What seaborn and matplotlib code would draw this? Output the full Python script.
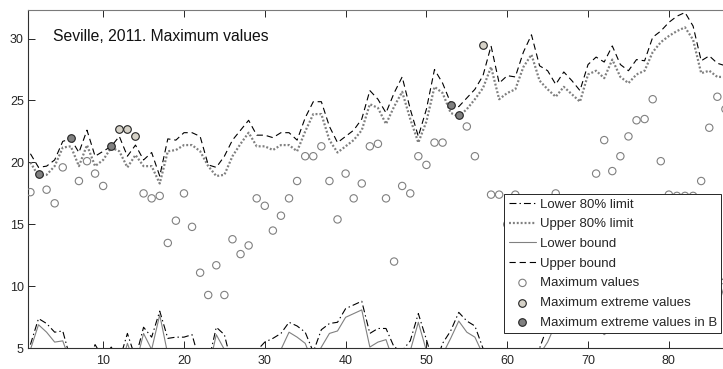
import matplotlib
matplotlib.use("Agg")
import matplotlib.pyplot as plt
import seaborn as sns

days = list(range(1, 88))
upper_bound = [20.7, 19.6, 19.7, 20.2, 21.7, 21.9, 20.8, 22.6, 20.5, 20.9,
               21.3, 22.1, 20.5, 21.4, 20.2, 20.8, 18.9, 21.9, 21.8, 22.4,
               22.4, 22.1, 19.8, 19.6, 20.5, 21.8, 22.6, 23.4, 22.2, 22.2,
               22.0, 22.4, 22.4, 21.8, 23.6, 24.9, 24.9, 22.9, 21.6, 22.1,
               22.6, 23.5, 25.8, 25.1, 24.0, 25.6, 26.9, 24.3, 22.1, 24.3,
               27.5, 26.4, 24.8, 24.5, 25.2, 25.9, 27.0, 29.4, 26.4, 27.0,
               26.9, 28.9, 30.3, 27.8, 27.4, 26.3, 27.3, 26.6, 25.8, 27.9,
               28.5, 28.1, 29.4, 27.9, 27.4, 28.3, 28.2, 30.1, 30.6, 31.3,
               31.8, 32.1, 31.0, 28.2, 28.6, 28.0, 27.8]
upper_80 = [20.0, 18.9, 19.0, 19.7, 21.2, 21.3, 19.7, 21.4, 19.7, 20.2,
            21.2, 20.9, 19.6, 20.6, 19.7, 19.7, 18.3, 20.9, 21.0, 21.4,
            21.4, 20.9, 19.7, 18.9, 19.0, 20.5, 21.5, 22.4, 21.3, 21.3,
            21.0, 21.4, 21.4, 20.9, 22.5, 23.9, 23.9, 21.8, 20.8, 21.3,
            21.8, 22.6, 24.7, 24.4, 23.1, 24.5, 25.7, 23.5, 21.6, 23.3,
            26.1, 25.6, 24.0, 23.7, 24.3, 25.1, 26.0, 27.7, 25.1, 25.6,
            25.9, 27.7, 28.7, 26.6, 25.9, 25.3, 26.1, 25.5, 24.9, 27.1,
            27.4, 26.8, 28.3, 26.9, 26.4, 27.1, 27.4, 28.9, 29.7, 30.2,
            30.6, 30.9, 29.9, 27.2, 27.4, 26.9, 26.9]
lower_80 = [5.3, 7.4, 7.0, 6.3, 6.4, 4.0, 3.2, 3.6, 5.3, 4.2,
            5.1, 4.0, 6.2, 4.2, 6.7, 5.9, 8.0, 5.8, 5.9, 5.9,
            6.1, 3.8, 3.8, 6.7, 6.1, 3.5, 3.0, 3.5, 4.8, 5.5,
            5.8, 6.2, 7.1, 6.8, 6.3, 4.7, 6.5, 7.0, 7.1, 8.2,
            8.5, 8.8, 6.2, 6.6, 6.6, 5.1, 4.8, 5.6, 7.8, 5.7,
            3.5, 5.4, 6.4, 7.9, 7.2, 6.8, 5.0, 3.5, 3.0, 3.0,
            3.5, 3.5, 4.0, 5.0, 6.8, 7.8, 8.2, 7.6, 7.8, 8.2,
            7.8, 7.2, 7.6, 8.0, 8.4, 8.0, 7.8, 8.2, 8.6, 8.8,
            8.4, 8.0, 7.8, 7.6, 8.0, 9.0, 11.2]
lower_bound = [4.9, 6.9, 6.3, 5.5, 5.6, 3.8, 3.0, 3.0, 3.8, 3.0,
               4.0, 3.0, 5.4, 3.6, 6.2, 4.9, 7.7, 4.5, 3.5, 4.0,
               4.9, 3.5, 3.2, 6.1, 4.9, 3.0, 2.8, 3.0, 3.0, 3.5,
               4.0, 4.9, 6.3, 5.9, 5.4, 3.8, 5.1, 6.2, 6.4, 7.5,
               7.8, 8.1, 5.1, 5.5, 5.7, 3.8, 3.5, 4.8, 7.1, 4.8,
               3.5, 4.5, 5.8, 7.2, 6.3, 5.9, 4.5, 3.0, 2.5, 2.5,
               3.0, 3.0, 3.5, 4.5, 5.5, 7.0, 7.2, 6.8, 6.6, 7.0,
               6.8, 6.1, 6.6, 7.0, 7.4, 7.0, 6.8, 7.2, 7.6, 7.8,
               7.4, 7.0, 6.8, 6.6, 7.0, 8.2, 10.3]

max_days = [1, 3, 4, 5, 7, 8, 9, 10, 15, 16, 17, 18, 19, 20, 21, 22, 23, 24, 25,
            26, 27, 28, 29, 30, 31, 32, 33, 34, 35, 36, 37, 38, 39, 40, 41, 42,
            43, 44, 45, 46, 47, 48, 49, 50, 51, 52, 55, 56, 58, 59, 60, 61, 62,
            63, 64, 65, 66, 67, 68, 69, 70, 71, 72, 73, 74, 75, 76, 77, 78, 79,
            80, 81, 82, 83, 84, 85, 86, 87]
max_values = [17.6, 17.8, 16.7, 19.6, 18.5, 20.1, 19.1, 18.1, 17.5, 17.1, 17.3,
              13.5, 15.3, 17.5, 14.8, 11.1, 9.3, 11.7, 9.3, 13.8, 12.6, 13.3,
              17.1, 16.5, 14.5, 15.7, 17.1, 18.5, 20.5, 20.5, 21.3, 18.5, 15.4,
              19.1, 17.1, 18.3, 21.3, 21.5, 17.1, 12.0, 18.1, 17.5, 20.5, 19.8,
              21.6, 21.6, 22.9, 20.5, 17.4, 17.4, 15.0, 17.4, 12.5, 10.0, 14.0,
              16.0, 17.5, 15.5, 13.0, 16.5, 15.0, 19.1, 21.8, 19.3, 20.5, 22.1,
              23.4, 23.5, 25.1, 20.1, 17.4, 17.3, 17.3, 17.3, 18.5, 22.8, 25.3,
              24.3]
extreme_days = [12, 13, 14, 57]
extreme_values = [22.7, 22.7, 22.1, 29.5]
extreme_b_days = [2, 6, 11, 53, 54]
extreme_b_values = [19.1, 22.0, 21.3, 24.6, 23.8]

x_ticks = [10, 20, 30, 40, 50, 60, 70, 80]
y_ticks = [5, 10, 15, 20, 25, 30]
title_text = "Seville, 2011. Maximum values"
legend_labels = ["Lower 80% limit", "Upper 80% limit", "Lower bound",
                 "Upper bound", "Maximum values", "Maximum extreme values",
                 "Maximum extreme values in B"]

sns.set_style("white")
plt.rcParams["font.family"] = ["Liberation Sans", "DejaVu Sans"]
plt.rcParams["lines.scale_dashes"] = False

W, H = 723, 369
fig = plt.figure(figsize=(W / 100, H / 100), dpi=100)
ax = fig.add_axes([28 / W, (H - 348.3) / H, (W - 28) / W, 338.3 / H])

handles = []
sns.lineplot(x=days, y=lower_80, ax=ax, color="black", lw=0.8,
             linestyle=(0, (5, 2.2, 1, 2.2)), errorbar=None, sort=False)
handles.append(ax.lines[-1])
sns.lineplot(x=days, y=upper_80, ax=ax, color="#808080", lw=1.6,
             linestyle=(0, (1.4, 1.4)), errorbar=None, sort=False)
handles.append(ax.lines[-1])
sns.lineplot(x=days, y=lower_bound, ax=ax, color="#808080", lw=0.8,
             linestyle="-", errorbar=None, sort=False)
handles.append(ax.lines[-1])
sns.lineplot(x=days, y=upper_bound, ax=ax, color="black", lw=0.8,
             linestyle=(0, (4.5, 2.8)), errorbar=None, sort=False)
handles.append(ax.lines[-1])

sns.scatterplot(x=max_days, y=max_values, ax=ax, marker="o", s=28,
                facecolor="none", edgecolor="#808080", linewidth=0.8, zorder=3)
handles.append(ax.collections[-1])
sns.scatterplot(x=extreme_days, y=extreme_values, ax=ax, marker="o", s=30,
                color="#d6d2c8", edgecolor="#222222", linewidth=0.8, zorder=4)
handles.append(ax.collections[-1])
sns.scatterplot(x=extreme_b_days, y=extreme_b_values, ax=ax, marker="o", s=30,
                color="#808080", edgecolor="#222222", linewidth=0.8, zorder=4)
handles.append(ax.collections[-1])

ax.set_xlim(0.7, 86.7)
ax.set_ylim(5, 32.3)
ax.set_xticks(x_ticks)
ax.set_yticks(y_ticks)
ax.set_xlabel("")
ax.set_ylabel("")
ax.tick_params(axis="both", direction="in", length=5, width=0.7,
               colors="#262626", labelsize=9)
ax.tick_params(axis="x", top=True, bottom=True, pad=5)
ax.tick_params(axis="y", left=True, right=False, pad=3)
for side in ["left", "bottom", "top"]:
    ax.spines[side].set_visible(True)
    ax.spines[side].set_color("#303030")
    ax.spines[side].set_linewidth(0.8)
ax.spines["top"].set_color("#7a7a7a")
ax.spines["right"].set_visible(False)

ax.text(0.036, 0.923, title_text, transform=ax.transAxes, fontsize=11.3,
        color="#111111", va="center", ha="left")

leg = ax.legend(handles=handles, labels=legend_labels, loc="upper left",
                bbox_to_anchor=(504 / W, 1 - 194 / H),
                bbox_transform=fig.transFigure, fontsize=9.5, frameon=True,
                fancybox=False, framealpha=1, edgecolor="#262626",
                borderaxespad=0, borderpad=0.35, labelspacing=0.56,
                handlelength=2.1, handletextpad=0.25, scatterpoints=1)
leg.get_frame().set_linewidth(0.7)
leg.set_zorder(10)

fig.savefig("out.png", dpi=100)
